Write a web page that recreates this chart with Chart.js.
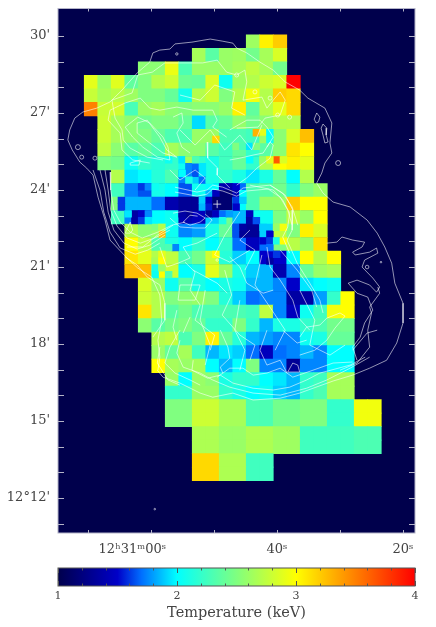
<!DOCTYPE html>
<html>
<head>
<meta charset="utf-8">
<title>Temperature map</title>
<script src="https://cdn.jsdelivr.net/npm/chart.js@4"></script>
<style>
  body { margin: 0; background: #fff; }
  canvas { position: absolute; left: 0; }
  #mapChart { top: 0; }
  #barChart { top: 560px; }
</style>
</head>
<body>
<canvas id="mapChart" width="436" height="560"></canvas>
<canvas id="barChart" width="436" height="67"></canvas>
<script>
const _ = null;

// axis ticks: right ascension in seconds past 12h30m, declination in arcmin past 12 deg
const raTicks = [70, 60, 50, 40, 30, 20];
const raLabels = ['', '12ʰ31ᵐ00ˢ\u00a0\u00a0\u00a0\u00a0\u00a0\u00a0\u00a0\u00a0\u00a0', '', '40ˢ', '', '20ˢ'];
const decTicks = [30, 29, 28, 27, 26, 25, 24, 23, 22, 21, 20, 19, 18, 17, 16, 15, 14, 13, 12, 11];
const decLabels = ["30'", '', '', "27'", '', '', "24'", '', '', "21'", '', '', "18'", '', '', "15'", '', '', "12°12'", ''];
const barTitle = 'Temperature (keV)';

// temperature in keV, one row per map row (north first), one value per bin
const tempRows = [
  [_,_,_,_,_,_,_,_,_,_,_,_,2.62,3.05,3.2],
  [_,_,_,_,_,_,_,_,2.65,2.35,2.6,2.62,2.45,2.65,2.85],
  [_,_,_,_,2.55,2.55,2.92,2.3,2.6,2.6,2.6,2.65,2.75,2.65,2.45],
  [2.9,2.6,2.88,2.38,2.5,2.7,2.8,2.42,2.4,2.85,2.05,2.62,2.7,2.8,2.85,4.0],
  [2.78,2.65,2.72,2.62,2.5,2.5,2.4,2.08,2.7,2.8,2.5,2.7,2.95,2.7,3.2,3.15],
  [3.5,2.78,2.82,2.28,2.6,2.65,2.55,2.5,2.55,2.55,2.6,3.05,2.38,2.7,2.9,3.15],
  [_,2.8,2.65,2.55,2.45,2.5,2.5,2.4,1.93,2.35,2.4,2.58,2.45,2.55,2.7,2.7],
  [_,2.8,2.65,2.55,2.5,2.4,2.3,2.3,2.6,2.6,2.3,2.3,2.25,2.45,2.55,2.85,3.25],
  [_,2.75,2.55,2.35,2.4,2.3,2.65,2.55,2.55,2.35,2.25,2.4,2.2,2.35,2.55,3.1,3.0],
  [_,2.5,2.45,2.05,2.2,2.15,2.2,2.05,2.2,2.1,2.25,2.4,2.2,2.7,3.0,3.05,2.9],
  [_,_,2.7,1.95,2.0,2.15,2.3,1.75,1.9,2.1,2.2,2.1,1.95,2.1,2.4,2.0,2.7],
  [_,_,2.25,1.75,1.65,2.08,2.0,1.65,2.05,2.0,1.4,1.7,2.3,2.35,2.45,2.2,2.5,2.6],
  [_,_,2.5,1.85,1.85,1.7,1.4,1.3,1.3,1.85,1.15,2.0,2.3,2.6,2.6,3.2,3.0,3.0],
  [_,_,2.25,1.75,1.6,2.0,2.05,1.4,1.45,1.9,2.45,1.85,2.05,2.05,2.5,2.75,2.6,3.0],
  [_,_,_,2.7,2.55,2.5,2.05,1.75,1.8,2.1,2.4,1.6,1.3,1.9,2.75,2.5,3.05,2.85],
  [_,_,_,3.0,2.75,2.3,2.1,2.0,2.2,2.0,2.2,1.7,1.45,1.7,2.5,2.72,2.6,3.1],
  [_,_,_,3.1,2.9,2.7,2.75,2.3,2.45,2.8,2.15,1.9,2.0,1.5,1.5,2.0,3.0,2.7,3.0],
  [_,_,_,3.25,3.25,3.0,2.8,2.0,2.1,2.9,2.6,2.1,1.9,1.85,1.4,1.75,2.4,2.6,2.65],
  [_,_,_,_,2.85,2.6,2.05,2.35,2.1,2.0,2.1,2.05,1.85,1.85,1.75,1.5,1.95,2.0,2.05],
  [_,_,_,_,2.8,2.7,2.5,2.55,2.6,2.5,2.15,1.9,1.7,1.75,1.75,1.35,1.35,1.8,2.2,3.0],
  [_,_,_,_,3.1,2.7,2.35,2.45,2.3,2.3,2.3,2.3,2.25,2.75,1.75,1.45,2.05,2.25,2.95,3.0],
  [_,_,_,_,2.55,2.35,2.45,2.5,2.4,2.2,2.2,2.5,2.2,1.85,2.1,2.1,2.2,2.3,2.45,2.45],
  [_,_,_,_,_,2.7,2.75,2.3,2.5,3.05,2.4,2.15,1.85,1.8,1.75,1.75,2.05,2.1,2.4,2.4],
  [_,_,_,_,_,2.6,2.4,2.65,2.25,1.85,1.95,1.9,1.7,1.45,1.7,1.75,1.85,1.75,2.0,2.0],
  [_,_,_,_,_,3.0,2.65,2.6,2.65,2.0,1.85,2.0,2.5,1.75,1.75,1.3,1.75,1.75,2.0,2.0],
  [_,_,_,_,_,_,2.6,2.0,2.6,2.55,2.1,2.2,2.2,2.0,1.95,1.85,2.2,2.25,2.65,2.65],
  [_,_,_,_,_,_,2.2,2.2,2.6,2.6,2.2,2.1,2.0,2.05,1.9,1.85,2.2,2.3,2.65,2.65],
  [_,_,_,_,_,_,2.5,2.5,2.8,2.8,2.65,2.65,2.3,2.3,2.45,2.45,2.5,2.5,2.2,2.2,2.95,2.95],
  [_,_,_,_,_,_,2.5,2.5,2.8,2.8,2.65,2.65,2.3,2.3,2.45,2.45,2.5,2.5,2.2,2.2,2.95,2.95],
  [_,_,_,_,_,_,_,_,2.68,2.68,2.6,2.6,2.68,2.68,2.62,2.62,2.25,2.25,2.25,2.25,2.3,2.3],
  [_,_,_,_,_,_,_,_,2.68,2.68,2.6,2.6,2.68,2.68,2.62,2.62,2.25,2.25,2.25,2.25,2.3,2.3],
  [_,_,_,_,_,_,_,_,3.15,3.15,2.68,2.68,2.25,2.25],
  [_,_,_,_,_,_,_,_,3.15,3.15,2.68,2.68,2.25,2.25]
];

// finer bins in the bright core: [column, row, keV] on a grid twice as fine
const fineBins = [
  [19,15,3.15],[25,14,3.3],[26,14,2.9],[26,15,2.6],[27,14,2.0],[27,15,2.05],
  [22,16,2.5],[23,16,2.3],[24,16,1.95],[25,16,2.5],
  [28,18,3.65],[29,18,2.85],[26,18,2.6],[27,18,2.9],[24,18,2.0],
  [12,18,2.05],[14,18,1.95],[15,18,2.65],[15,19,1.75],[16,19,1.7],[17,19,1.95],[16,18,2.3],
  [16,20,1.65],[17,20,1.95],[17,21,1.7],[18,21,2.1],[14,20,2.0],[15,21,2.1],
  [8,22,1.6],[9,22,1.75],[10,22,2.05],[21,22,1.4],[20,23,1.15],[21,23,1.15],[22,22,1.5],[22,23,1.4],[18,23,1.85],[19,23,1.45],[23,23,2.0],
  [5,24,1.6],[5,25,1.6],[16,24,1.3],[16,25,1.3],[17,24,1.9],[17,25,1.85],[18,24,1.5],[18,25,1.55],[19,24,1.15],[19,25,1.2],[22,24,1.6],[23,24,1.9],[22,25,1.5],
  [7,26,1.35],[7,27,1.35],[6,26,1.95],[8,26,1.5],[9,26,1.75],[8,27,1.6],[9,27,1.95],[15,26,1.3],[14,26,1.35],[18,26,1.3],[19,26,1.45],[20,26,1.7],[24,26,1.45],[24,27,1.35],[25,27,1.65],[20,27,2.1],[21,26,1.8],
  [11,29,3.25],[11,28,2.7],[10,29,2.6],[22,28,1.65],[23,28,1.35],[22,29,1.65],[23,29,1.3],[26,28,1.9],[27,29,1.5],[28,28,2.6],[29,28,2.95],
  [13,31,1.75],[12,31,2.3],[26,30,1.5],[27,30,1.6],[27,31,1.7],[28,30,2.1],[29,30,3.0],
  [10,33,2.65],[11,32,2.9],[11,33,3.0],[19,32,3.0],[27,33,1.35],[28,32,1.6],
  [10,34,2.1],[10,35,2.05],[12,35,2.3],[11,34,2.6]
];

// radio contours as [RA seconds, Dec arcmin]
const outerEast = [[58.6,29.45],[57,29.49],[56.2,29.69],[53.5,29.76],[50.6,29.88],[48.7,29.8],[47,29.72],[46.4,29.53],[44.8,29.34],[42.7,28.98],[40.6,28.67],[38.7,28.21],[36.4,27.89],[35.1,27.58],[32.4,27.19],[31.3,26.61],[31.6,25.83],[31.3,25.44],[32.4,25.05],[32.9,24.66],[33.7,24.27],[32.7,23.88],[31.1,23.53],[28.4,23.34],[25.7,22.83],[24.1,22.32],[22.9,21.78],[21.8,21.15],[21.3,20.37],[20,19.59],[20,18.82],[21,18.04],[22.6,17.37],[25.3,17.06],[28,16.79],[31.1,16.56],[36.4,16.09],[39.5,15.89],[43.8,15.82],[47,16.09],[50.2,15.93],[52.2,16.09],[55.4,16.48],[58.1,16.71],[59,16.98]];
const outerWest = [[58.6,29.45],[59.7,29.34],[60.2,28.98],[62.2,28.56],[64.6,27.89],[66.5,27.43],[68.6,27.19],[70.8,27.04],[72.1,26.8],[72.9,26.34],[73.2,25.95],[72.5,25.56],[71.3,25.09],[70.2,24.85],[69.2,24.58],[68.4,23.72],[67.3,22.83],[66.5,22.05],[63.8,21.35],[62.1,20.96],[59.9,20.61],[58.6,19.91],[58.3,18.93],[58.9,18.15],[58.6,17.49],[58.9,16.98]];
const arcA = [[69.2,24.78],[68.1,24],[67.5,23.14],[66.5,22.36],[64.9,21.74],[62.5,21.5],[60.5,21.66],[58.6,21.93]];
const arcB = [[68.1,24.78],[67.3,24],[66.8,23.14],[65.9,22.44],[64.3,21.93],[62.2,21.7],[60.2,21.85],[57.8,22.24]];
const arcC = [[67.3,24.78],[66.8,24],[66.4,23.22],[65.4,22.6],[63.8,22.13],[61.7,21.93],[59.4,22.13],[57,22.44]];
const arcD = [[66.5,24.7],[66.4,24],[65.9,23.22],[64.9,22.75],[63.3,22.36],[61.4,22.13],[58.9,22.36],[56.7,22.63],[54.6,22.75]];
const ridgeA = [[56.2,24.11],[52.7,23.92],[51.1,24],[50.2,24.19],[48.6,24.11],[46.4,23.88],[45.4,24.08],[41.1,24.19],[39.1,23.88],[37.6,23.34],[36.7,22.63]];
const ridgeB = [[56.2,23.92],[52.7,23.76],[51.1,23.84],[50.2,24.04],[48.6,23.96],[46.4,23.76],[44.9,23.96],[41.4,24.04],[39.5,23.72],[38.3,23.22],[37.6,22.63]];
const coreA = [[56.5,23.1],[54.6,23.18],[52.7,23.1],[51.4,22.91],[52.2,22.75],[53.8,22.63],[54.9,22.75],[53.8,23.02],[52.6,22.98]];
const coreB = [[57,22.91],[55.4,22.56],[53,22.52],[51.4,22.52],[50.3,22.83],[51.4,23.06]];
const streamA = [[44.3,24.19],[40.6,24],[39.1,23.61],[38,23.1],[38.3,22.56],[39.1,22.17],[38,21.54]];
const streamB = [[41.1,24.19],[38.7,23.8],[37.5,23.22],[37.6,22.44],[38.4,22.05],[36.8,21.15],[34.8,20.37],[33.2,19.71],[32.7,19.21]];
const streamC = [[41.6,21.78],[41.1,21],[39.5,20.49],[37.5,19.71],[36.7,19.05],[34.8,18.54]];
const streamD = [[47.5,21.39],[45.9,21],[44.8,20.37],[42.2,19.98],[40.6,20.1]];
const streamE = [[39.5,21.66],[36.8,20.88],[34.5,20.1],[33.7,19.44]];
const lobeA = [[32.1,21.93],[30.5,21.97],[29.7,22.17],[28,22.05],[26.1,21.97],[26.5,21.78],[28,21.58],[27.6,21.47],[25.3,21.58],[24.2,21.74],[24,21.54],[26.1,21.27],[26.5,21],[24.8,20.57],[23.7,20.22],[24.2,20.02],[25.3,20.3],[27.3,20.49],[28.7,20.37],[27.3,19.98],[25.6,19.83],[24.8,19.32],[26.1,18.82],[26.8,18.27],[28,17.88],[27.3,17.37]];
const lobeB = [[24,20.22],[23.7,19.98],[25.3,19.44],[25,19.21],[25.6,18.54],[25.3,17.88],[27.3,17.26],[30,16.98]];
const lobeC = [[36.4,18.27],[35.3,18.66],[33.2,18.74],[32.1,19.01],[30,19.21],[29.2,19.09],[30.8,18.62],[32.1,18.15],[34,17.76],[36.4,17.57]];
const southA = [[55.4,18.15],[55.9,17.65],[54.9,17.1],[52.2,16.87],[50.2,16.6],[47.5,16.32],[43.8,16.09],[39.5,16.01],[35.3,16.28],[32.1,16.6],[28.4,17.06],[25.3,17.49]];
const southB = [[53.3,17.37],[53.5,16.98],[51,16.67],[49,16.79],[47,16.48],[43.8,16.28],[40.6,16.21],[38,16.32],[35.3,16.6],[33.2,16.87],[28.4,17.18],[26,17.49]];
const southC = [[49.5,16.71],[47.5,17.06],[45.4,17.06],[43.8,16.79],[41.6,16.87],[39.5,17.06],[37.5,16.71],[34.3,16.98],[31.1,17.26],[28,17.3]];
const southD = [[49,18.54],[47.8,17.88],[47.5,17.45],[49,17.1],[48.6,16.87]];
const southE = [[41.6,18.54],[42.7,17.76],[41.6,17.18],[39.5,17.37],[38.4,16.87]];
const southF = [[38.3,16.91],[37.5,17.26],[36.7,17.18],[36.4,16.91],[38.3,16.91]];
const southG = [[39.1,18.54],[36.8,18.04],[35.3,18.15]];
const southH = [[28,17.76],[25.7,18.43],[24.1,18.54]];
const southI = [[58.6,17.88],[59,17.26],[57.3,16.6],[55.4,16.4]];
const southJ = [[55.4,18.54],[57,17.88],[57.8,17.26],[56.2,16.87],[53.8,16.6],[52.2,16.4]];
const midA = [[64.1,21.39],[62.2,21.08],[60.6,20.61],[58.6,20.3],[57.8,19.59],[57.8,18.93],[59.7,18.27]];
const midB = [[63.8,21.78],[61.3,21.78],[59,22.24],[56.5,22.63]];
const midC = [[55.9,19.32],[56.5,18.66],[55.9,18.15]];
const midD = [[53.8,19.05],[54.9,18.43]];
const midE = [[64.1,22.32],[63.3,22.75],[62.9,22.44],[63.3,22.32],[64.1,22.32]];
const midF = [[58.6,21.78],[57.5,21],[55.7,21.15],[53.8,21.35],[54.9,21.78],[52.7,21.93],[49.5,22.32]];
const midG = [[53.3,20.88],[49.5,20.37],[47.9,19.98]];
const midH = [[51.4,20.1],[52.2,18.93],[50.6,17.96],[51.4,17.18]];
const midI = [[45.9,19.71],[46.7,18.54],[45.1,17.76],[45.9,16.98]];
const midJ = [[44.3,22.44],[45.9,22.05],[43.5,21.66],[45.1,20.88]];
const midK = [[54.6,21.19],[53,20.8],[53.8,20.1],[52.2,19.52],[53,18.93],[49.9,18.35],[50.6,17.76]];
const midL = [[48.3,20.88],[47.2,19.91],[48.7,19.13],[45.9,18.35],[43.5,17.96],[44.3,17.37]];
const midM = [[42.4,21.47],[43.5,20.3],[40.8,19.32],[38.7,18.54],[40.3,17.76]];
const midN = [[36.4,20.1],[34,18.93],[34.8,17.96],[31.6,17.57],[29.2,17.96]];
const northA = [[66.2,27.5],[63,27.78],[62.1,28.48],[59.8,28.59],[57.8,28.95],[51.8,28.95],[49.5,29.06],[48,28.59],[46.4,28.48],[45.1,28.67],[44.8,28.21],[45.4,27.5],[42.4,27.62],[41.6,27.19],[40.6,27.5],[39.5,27.82],[38.7,27.5],[39.5,26.92],[41.9,26.8],[43,26.45],[46.4,26.41]];
const northB = [[66.2,27.5],[65.7,26.8],[64.6,26.34],[64.4,25.95],[63.3,25.63],[60.6,25.28],[58.1,25.17]];
const northC = [[64.1,27.39],[61.7,27.58],[60.2,27.19],[58.6,27.11],[55.9,27.23],[53.3,27.11],[50.2,27.11],[49.5,26.72],[50.2,26.45],[48,26.06]];
const northD = [[64.1,27.39],[66.5,27.11],[66.8,26.72],[64.9,26.22],[64.6,25.56],[62.9,25.17],[60.2,25.05]];
const northE = [[62.2,26.61],[60.6,26.72],[58.6,26.06],[57.5,25.56],[55.9,25.28],[58.1,25.44],[60.2,25.83],[62.2,26.22],[62.2,26.61]];
const northF = [[64.1,26.45],[62.1,26.84],[60.2,26.61],[58.1,26.06],[57.3,25.67],[57,25.17],[59,25.28],[61.3,25.67],[62.9,26.06],[64.1,26.45]];
const northG = [[56.5,26.84],[55.1,27],[54.9,26.61],[55.9,26.22],[55.1,25.67],[53.8,25.44]];
const northH = [[63.3,25.05],[61.7,25.17],[61.9,24.97],[63.3,24.97],[63.3,25.05]];
const northI = [[51.1,25.87],[51,25.24],[49.4,24.85],[49.5,24.58],[47.5,24.08]];
const northJ = [[47.5,25.17],[45.9,25.24],[43.8,25.36],[42.2,25.44],[41.1,25.87],[40.6,25.75],[41.1,25.24],[43.2,24.85],[44.8,24.47],[46.4,24.19]];
const northK = [[47.5,26.34],[44.8,26.72],[42.7,26.72],[41.6,26.45],[40.6,26.06],[41.6,25.67]];
const northL = [[55.4,26.34],[53,25.75],[50.6,26.34],[48.3,25.56],[45.9,26.14],[44,25.56],[42.4,26.53]];
const northM = [[55.4,27.7],[52.2,27.5],[49.9,28.09],[46.7,27.82],[47.2,27.19],[45.1,26.92]];
const ovalA = [[33.7,27],[33.2,26.84],[33.4,26.65],[33.8,26.61],[34.1,26.76],[33.7,27]];
const ovalB = [[32.7,26.57],[32.1,26.41],[32.2,26.14],[31.9,25.87],[32.4,25.83],[32.7,26.14],[33,26.41],[32.7,26.57]];
const wiggleA = [[57,24.78],[55.4,24.39],[53,24.78],[51.4,24.47],[53,24]];
const wiggleB = [[45.9,23.14],[48.3,22.24],[49.9,21.47],[47.5,21.19],[44.3,21.66]];
const wiggleC = [[55.4,20.3],[55.7,19.71],[53,19.71],[52.2,20.3],[55.4,20.3]];

const contours = [outerEast, outerWest, arcA, arcB, arcC, arcD, ridgeA, ridgeB, coreA, coreB,
  streamA, streamB, streamC, streamD, streamE, lobeA, lobeB, lobeC,
  southA, southB, southC, southD, southE, southF, southG, southH, southI, southJ,
  midA, midB, midC, midD, midE, midF, midG, midH, midI, midJ, midK, midL, midM, midN,
  northA, northB, northC, northD, northE, northF, northG, northH, northI, northJ, northK, northL, northM,
  ovalA, ovalB, wiggleA, wiggleB, wiggleC];

// tiny closed contours: RA, Dec, size
const blobRa = [71.6, 71.0, 68.9, 30.3, 55.9, 25.7, 23.5, 59.4, 46.4, 43.5, 41.1, 39.9, 38.0, 49.5];
const blobDec = [25.67, 25.28, 25.24, 25.05, 29.3, 21.0, 21.19, 11.57, 28.48, 27.82, 27.58, 26.92, 26.84, 21.27];
const blobSize = [2.5, 2, 2, 2.5, 1.2, 1.8, 0.8, 0.8, 2, 2, 2, 2, 2, 1.2];
const centre = [49.5, 23.45];

// map grid
const gridRa0 = 70.59, gridRaStep = 2.1425;
const gridDec0 = 30.04, gridDecStep = 0.526;

// colour table of the image
const stopKeV = [1, 1.5, 1.7, 2, 3, 4];
const stopRgb = [[0, 0, 76], [0, 0, 200], [0, 110, 255], [0, 255, 255], [255, 255, 0], [255, 0, 0]];

function tempColor(t) {
  let i = 0;
  while (i < stopKeV.length - 2 && t > stopKeV[i + 1]) i++;
  const f = Math.min(1, Math.max(0, (t - stopKeV[i]) / (stopKeV[i + 1] - stopKeV[i])));
  const c = stopRgb[i].map((v, j) => Math.round(v + (stopRgb[i + 1][j] - v) * f));
  return `rgb(${c[0]},${c[1]},${c[2]})`;
}

const coarsePoints = [];
tempRows.forEach((row, m) => row.forEach((t, k) => {
  if (t !== null) coarsePoints.push({ x: gridRa0 - (k + 0.5) * gridRaStep, y: gridDec0 - (m + 0.5) * gridDecStep, t });
}));
const finePoints = fineBins.map(b => ({
  x: gridRa0 - (b[0] + 0.5) * gridRaStep / 2,
  y: gridDec0 - (b[1] + 0.5) * gridDecStep / 2,
  t: b[2]
}));

// rect point radius for a bin `span` grid steps wide, a hair oversize so neighbours close up
function binRadius(ctx, span) {
  const xs = ctx.chart.scales.x;
  const w = Math.abs(xs.getPixelForValue(gridRa0) - xs.getPixelForValue(gridRa0 - gridRaStep * span));
  return (w + 0.7) / 2 / Math.SQRT1_2;
}

const frameTicks = {
  id: 'frameTicks',
  beforeDatasetsDraw(chart, args, opts) {
    if (!opts.fill) return;
    const a = chart.chartArea;
    chart.ctx.fillStyle = opts.fill;
    chart.ctx.fillRect(a.left, a.top, a.right - a.left, a.bottom - a.top);
  },
  afterDraw(chart, args, opts) {
    const a = chart.chartArea, c = chart.ctx;
    c.save();
    c.strokeStyle = opts.color;
    c.lineWidth = opts.width;
    c.strokeRect(a.left, a.top, a.right - a.left, a.bottom - a.top);
    c.beginPath();
    chart.scales.x.ticks.forEach(t => {
      const x = Math.round(chart.scales.x.getPixelForValue(t.value)) + 0.5;
      const len = Number.isInteger(Math.round(t.value * 1000) / 1000) ? opts.xLen : opts.xMinorLen;
      c.moveTo(x, a.top); c.lineTo(x, a.top + len);
      c.moveTo(x, a.bottom); c.lineTo(x, a.bottom - len);
    });
    if (opts.yLen) chart.scales.y.ticks.forEach(t => {
      const y = Math.round(chart.scales.y.getPixelForValue(t.value)) + 0.5;
      c.moveTo(a.left, y); c.lineTo(a.left + opts.yLen, y);
      c.moveTo(a.right, y); c.lineTo(a.right - opts.yLen, y);
    });
    c.stroke();
    c.restore();
  }
};

const contourSets = contours.map(line => ({
  type: 'scatter',
  data: line,
  showLine: true,
  tension: 0,
  borderColor: 'rgba(255,255,255,0.72)',
  borderWidth: 0.8,
  pointRadius: 0,
  order: 0
}));

new Chart(document.getElementById('mapChart'), {
  type: 'scatter',
  data: {
    datasets: [
      ...contourSets,
      {
        data: blobRa.map((ra, i) => ({ x: ra, y: blobDec[i] })),
        pointStyle: 'circle',
        pointRadius: ctx => blobSize[ctx.dataIndex],
        pointBackgroundColor: 'rgba(0,0,0,0)',
        pointBorderColor: 'rgba(255,255,255,0.72)',
        pointBorderWidth: 0.8,
        order: 0
      },
      {
        data: [{ x: centre[0], y: centre[1] }],
        pointStyle: 'cross',
        pointRadius: 4,
        pointBorderColor: 'rgba(255,255,255,0.9)',
        pointBorderWidth: 0.8,
        order: 0
      },
      {
        data: finePoints,
        pointStyle: 'rect',
        pointRadius: ctx => binRadius(ctx, 0.5),
        pointBackgroundColor: ctx => tempColor(ctx.raw.t),
        pointBorderWidth: 0,
        order: 1
      },
      {
        data: coarsePoints,
        pointStyle: 'rect',
        pointRadius: ctx => binRadius(ctx, 1),
        pointBackgroundColor: ctx => tempColor(ctx.raw.t),
        pointBorderWidth: 0,
        order: 2
      }
    ]
  },
  options: {
    responsive: false,
    animation: false,
    layout: { padding: { top: 8.5, right: 21, left: 0, bottom: 0 } },
    plugins: {
      legend: { display: false },
      tooltip: { enabled: false },
      frameTicks: { fill: '#00004c', color: '#b4b4c8', width: 1, xLen: 3, xMinorLen: 3, yLen: 6 }
    },
    scales: {
      x: {
        type: 'linear',
        reverse: true,
        min: 18.1,
        max: 74.76,
        afterFit: s => { s.height = 27; s.paddingLeft = 0; s.paddingRight = 0; },
        afterBuildTicks: s => { s.ticks = raTicks.map(v => ({ value: v })); },
        grid: { display: false, drawTicks: false },
        border: { display: false },
        ticks: {
          autoSkip: false,
          maxRotation: 0,
          padding: 9,
          color: '#444',
          font: { family: '"DejaVu Serif"', size: 13 },
          callback: v => raLabels[raTicks.indexOf(v)]
        }
      },
      y: {
        type: 'linear',
        min: 10.64,
        max: 31.07,
        afterFit: s => { s.width = 58; s.paddingTop = 0; s.paddingBottom = 0; },
        afterBuildTicks: s => { s.ticks = decTicks.map(v => ({ value: v })); },
        grid: { display: false, drawTicks: false },
        border: { display: false },
        ticks: {
          autoSkip: false,
          padding: 8,
          color: '#444',
          font: { family: '"DejaVu Serif"', size: 13 },
          callback: v => decLabels[decTicks.indexOf(v)]
        }
      }
    }
  },
  plugins: [frameTicks]
});

// colour bar: a single floating bar from 1 to 4 keV filled with the colour table
function barFill(ctx) {
  const chart = ctx.chart, xs = chart.scales.x;
  if (!chart.chartArea || !xs) return tempColor(2.5);
  const g = chart.ctx.createLinearGradient(xs.getPixelForValue(1), 0, xs.getPixelForValue(4), 0);
  stopKeV.forEach(t => g.addColorStop((t - 1) / 3, tempColor(t)));
  return g;
}

new Chart(document.getElementById('barChart'), {
  type: 'bar',
  data: {
    labels: ['keV'],
    datasets: [{ data: [[stopKeV[0], stopKeV[stopKeV.length - 1]]], backgroundColor: barFill, barPercentage: 1, categoryPercentage: 1 }]
  },
  options: {
    indexAxis: 'y',
    responsive: false,
    animation: false,
    layout: { padding: { top: 8, right: 21, left: 58, bottom: 0 } },
    plugins: {
      legend: { display: false },
      tooltip: { enabled: false },
      frameTicks: { color: '#555', width: 1, xLen: 5, xMinorLen: 2.5, yLen: 0 }
    },
    scales: {
      x: {
        type: 'linear',
        min: 1,
        max: 4,
        afterFit: s => { s.height = 41; s.paddingLeft = 0; s.paddingRight = 0; },
        grid: { display: false, drawTicks: false },
        border: { display: false },
        title: { display: true, text: barTitle, color: '#444', font: { family: '"DejaVu Serif"', size: 14.5 }, padding: { top: 3, bottom: 5 } },
        ticks: {
          stepSize: 0.2,
          autoSkip: false,
          maxRotation: 0,
          padding: 4,
          color: '#444',
          font: { family: '"DejaVu Serif"', size: 11 },
          callback: v => Number.isInteger(Math.round(v * 1000) / 1000) ? String(Math.round(v)) : ''
        }
      },
      y: { display: false }
    }
  },
  plugins: [frameTicks]
});
</script>
</body>
</html>
